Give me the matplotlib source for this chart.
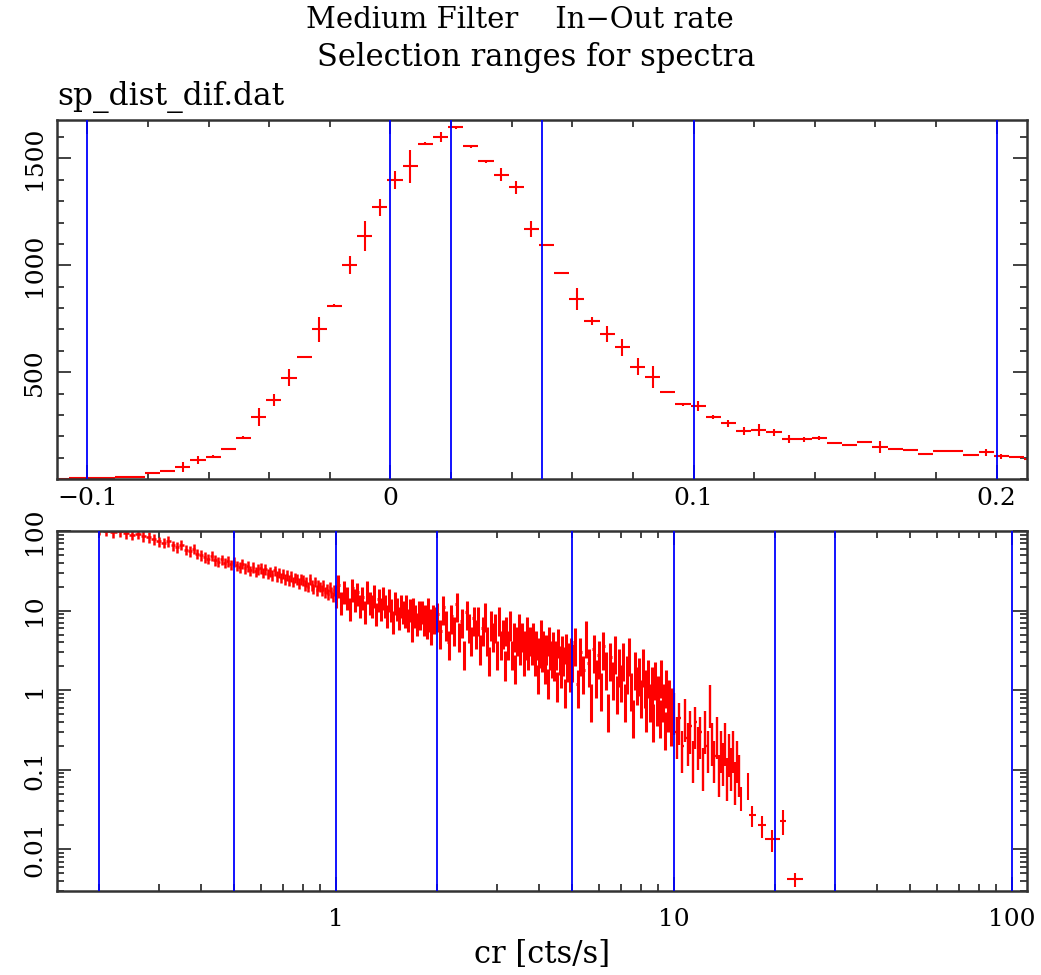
import numpy as np
import matplotlib
matplotlib.use('Agg')
import matplotlib.pyplot as plt
from matplotlib.ticker import MultipleLocator, LogLocator, FuncFormatter, NullFormatter

plt.rcParams['font.family'] = ['DejaVu Serif']
plt.rcParams['font.size'] = 18

RED = '#ff0000'
BLUE = '#0000ff'
FRAME = '#333333'

#############
# top panel: sp_dist_dif.dat  (bin centres, width 0.005)
#############
dif_cr = np.round(np.arange(-0.1085, 0.2116, 0.005), 4)
dif_val = [2, 3, 4, 6, 11, 9, 27, 39, 55, 89,
           105, 142, 194, 289, 370, 475, 570, 701, 812, 1003,
           1136, 1271, 1400, 1464, 1570, 1601, 1646, 1557, 1487, 1425,
           1365, 1170, 1095, 964, 843, 740, 678, 617, 526, 479,
           408, 350, 340, 291, 261, 225, 228, 218, 187, 186,
           190, 170, 158, 173, 151, 141, 134, 117, 131, 130,
           112, 125, 106, 102, 96]
dif_err = [2, 2, 2, 3, 3, 3, 5, 5, 23, 19,
           8, 5, 5, 42, 28, 39, 5, 58, 5, 42,
           70, 39, 42, 78, 8, 23, 8, 6, 6, 31,
           31, 39, 6, 6, 52, 19, 39, 39, 39, 52,
           6, 6, 23, 8, 16, 19, 28, 16, 19, 12,
           9, 5, 5, 5, 28, 6, 5, 5, 5, 5,
           5, 16, 12, 5, 5]
dif_bin = 0.005
dif_sel = [-0.1, 0.0, 0.02, 0.05, 0.1, 0.2]

#############
# bottom panel: count-rate distribution, linear bins per segment
#############
cr_a = np.round(np.arange(0.20, 0.995, 0.01), 3)
val_a = [104, 101, 97, 99, 94, 90, 92, 86, 84, 79,
         74, 71, 75, 66, 63, 67, 58, 56, 60, 52,
         50, 47, 45, 49, 43, 41, 44, 40, 42, 38,
         41, 37, 35, 39, 34, 36, 32, 35, 31, 33,
         34, 30, 33, 29, 31, 28, 32, 27, 30, 26,
         29, 25, 28, 24, 27, 23, 26, 25, 22, 25,
         24, 21, 23, 20, 25, 21, 19, 23, 18, 21,
         20, 18, 21, 17, 19, 16, 20, 17, 15, 18]
cr_b = np.round(np.arange(1.00, 1.99, 0.02), 3)
val_b = [16, 21, 13, 18, 15, 11, 19, 14, 17, 12,
         15, 10, 18, 13, 12, 16, 9.5, 14, 11, 15,
         12, 9, 14, 10.5, 7.5, 13, 11, 8.5, 12, 10,
         9, 12, 8, 10.5, 6, 11, 9, 7, 10, 8.5,
         10, 7, 9, 6.5, 11, 8, 5.5, 9, 7.5, 8.5]
cr_c = np.round(np.arange(2.00, 4.99, 0.04), 3)
val_c = [9, 5.5, 11, 7, 4, 8.5, 6, 12, 5, 7.5, 3, 9.5, 6.5, 4.5, 8,
         5.5, 8, 3.5, 6, 9, 4.5, 2.5, 7, 5, 6.5, 3, 8, 4, 5.5, 2.2,
         6, 4, 7, 3, 5, 2, 4.5, 6.5, 3.5, 5, 2.5, 4, 6, 3, 4.5,
         3.5, 5, 2.5, 4, 1.5, 3.2, 5.5, 2.8, 4, 2, 3.5, 1.3, 4.5, 3, 2.4,
         3.8, 2.2, 3, 1.2, 4.2, 2.6, 1.8, 3.4, 2.5, 1, 3.6, 2.1, 2.8, 1.6, 3.2]
cr_d = np.round(np.arange(5.0, 9.95, 0.1), 2)
val_d = [2.5, 4, 1.2, 3, 1.8, 5, 2.2, 0.8, 3.3, 1.6,
         2.8, 1.1, 3.6, 2, 0.6, 2.6, 1.5, 3.2, 1, 2.2,
         1.4, 2.6, 0.8, 1.8, 3, 1.1, 0.5, 2, 1.3, 1.7,
         0.9, 2.2, 1.2, 0.6, 1.6, 0.8, 1.3, 0.45, 1.5, 0.7,
         1.0, 0.5, 1.6, 0.8, 0.35, 1.2, 0.6, 0.9, 0.4, 0.7]
cr_e = np.round(np.arange(10.0, 15.7, 0.2), 2)
val_e = [0.6, 0.3, 0.45, 0.2, 0.5, 0.25, 0.35, 0.15, 0.4, 0.22,
         0.3, 0.12, 0.35, 0.2, 0.75, 0.25, 0.15, 0.3, 0.1, 0.2,
         0.14, 0.25, 0.09, 0.18, 0.12, 0.2, 0.08, 0.15, 0.1]
# relative error, bin step and drawn line width for each segment
seg_rel = [0.15, 0.32, 0.4, 0.5, 0.55]
seg_step = [0.01, 0.02, 0.04, 0.1, 0.2]
seg_lw = [1.8, 2.2, 2.2, 2.2, 1.7]

# sparse tail, grouped bins
cr_f = [15.8, 16.6, 17.1, 18.3, 19.6, 21.0, 22.9]
val_f = [0.045, 0.066, 0.027, 0.020, 0.0133, 0.023, 0.0042]
yerr_f = [0.015, 0.024, 0.008, 0.006, 0.004, 0.008, 0.0008]
xerr_f = [0.1, 0.1, 0.45, 0.5, 1.0, 0.43, 1.2]

cr_sel = [0.2, 0.5, 1, 2, 5, 10, 20, 30, 100]


def style_axes(ax):
    for sp in ax.spines.values():
        sp.set_linewidth(1.8)
        sp.set_color(FRAME)
    ax.tick_params(which='both', direction='in', top=True, right=True,
                   color=FRAME, width=1.3)
    ax.tick_params(which='major', length=10)
    ax.tick_params(which='minor', length=5)


fig = plt.figure(figsize=(10.41, 9.75), dpi=100)
ax1 = fig.add_axes([0.0548, 0.5087, 0.9318, 0.3682])
ax2 = fig.add_axes([0.0548, 0.0862, 0.9318, 0.3692])

# top
ax1.errorbar(dif_cr, dif_val, yerr=dif_err, xerr=dif_bin / 2, fmt='none',
             ecolor=RED, elinewidth=1.5, capsize=0, zorder=2)
for x in dif_sel:
    ax1.axvline(x, color=BLUE, lw=1.3, zorder=3)
ax1.set_xlim(-0.11, 0.21)
ax1.set_ylim(0, 1680)
ax1.xaxis.set_major_locator(MultipleLocator(0.1))
ax1.xaxis.set_minor_locator(MultipleLocator(0.02))
ax1.yaxis.set_minor_locator(MultipleLocator(100))
ax1.xaxis.set_major_formatter(FuncFormatter(lambda v, p: '0' if abs(v) < 1e-9 else ('%g' % v).replace('-', '\u2212')))
style_axes(ax1)
ax1.tick_params(axis='x', pad=6)
ax1.tick_params(axis='y', pad=8)
ax1.set_yticks([500, 1000, 1500])
ax1.set_yticklabels(['500', '1000', '1500'], rotation=90, va='center')
ax1.text(0.0, 1.02, 'sp_dist_dif.dat', transform=ax1.transAxes,
         ha='left', va='bottom', fontsize=22.5)

# bottom
segments = [(cr_a, val_a), (cr_b, val_b), (cr_c, val_c), (cr_d, val_d), (cr_e, val_e)]
for (xs, ys), rel, step, lw in zip(segments, seg_rel, seg_step, seg_lw):
    ys = np.array(ys, dtype=float)
    ax2.errorbar(xs, ys, yerr=ys * rel, xerr=step / 2, fmt='none',
                 ecolor=RED, elinewidth=lw, capsize=0, zorder=2)
ax2.errorbar(cr_f, val_f, yerr=yerr_f, xerr=xerr_f, fmt='none',
             ecolor=RED, elinewidth=1.5, capsize=0, zorder=2)
for x in cr_sel:
    ax2.axvline(x, color=BLUE, lw=1.3, zorder=3)
ax2.set_xscale('log')
ax2.set_yscale('log')
ax2.set_xlim(0.15, 111)
ax2.set_ylim(0.003, 100)
ax2.xaxis.set_major_locator(LogLocator(base=10, numticks=10))
ax2.xaxis.set_minor_locator(LogLocator(base=10, subs=np.arange(2, 10), numticks=20))
ax2.yaxis.set_major_locator(LogLocator(base=10, numticks=10))
ax2.yaxis.set_minor_locator(LogLocator(base=10, subs=np.arange(2, 10), numticks=20))
fmt = FuncFormatter(lambda v, p: '%g' % v)
ax2.xaxis.set_major_formatter(fmt)
ax2.yaxis.set_major_formatter(fmt)
ax2.xaxis.set_minor_formatter(NullFormatter())
ax2.yaxis.set_minor_formatter(NullFormatter())
style_axes(ax2)
ax2.tick_params(axis='x', pad=12)
ax2.tick_params(axis='y', pad=8)
for lab in ax2.get_yticklabels():
    lab.set_rotation(90)
    lab.set_verticalalignment('center')
ax2.set_xlabel('cr [cts/s]', fontsize=22, labelpad=6)

fig.text(520 / 1041, 0.979, 'Medium Filter    In\u2212Out rate', ha='center', va='center', fontsize=21)
fig.text(536 / 1041, 0.941, 'Selection ranges for spectra', ha='center', va='center', fontsize=22)

fig.savefig('out.png', dpi=100)
